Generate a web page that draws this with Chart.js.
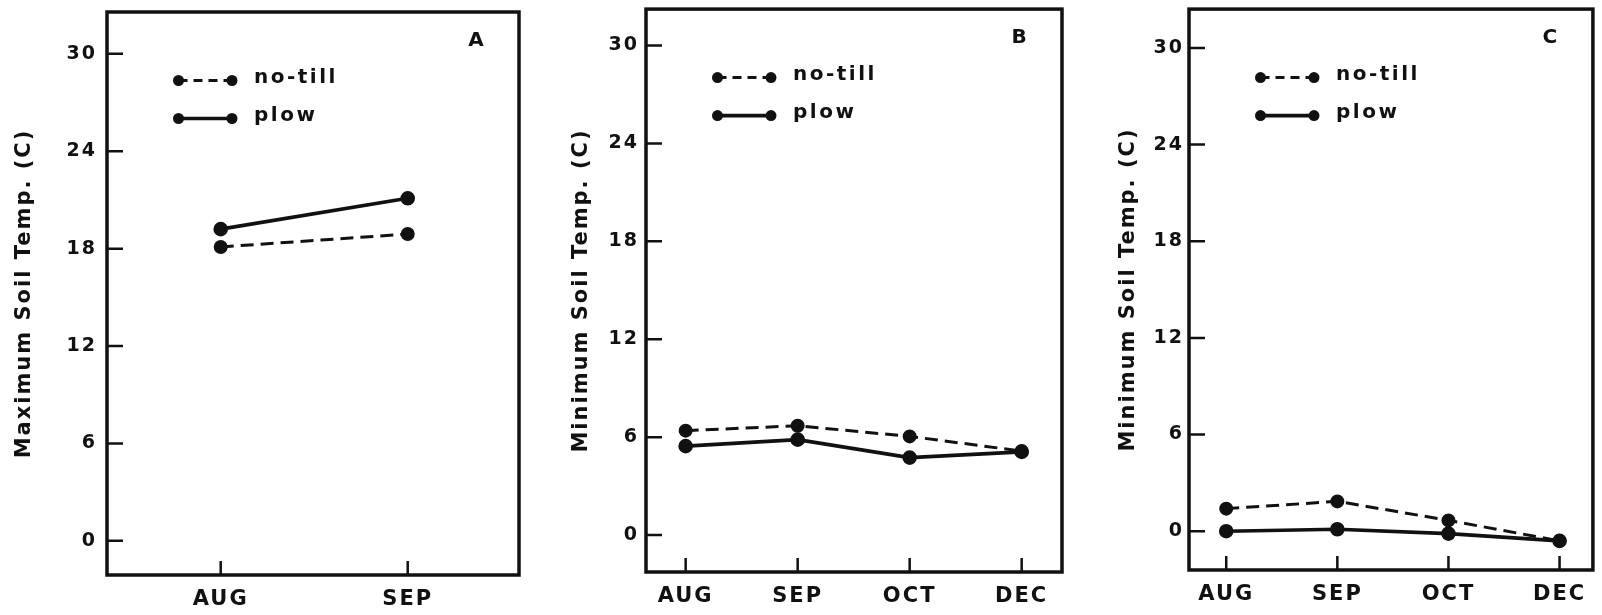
<!DOCTYPE html>
<html>
<head>
<meta charset="utf-8">
<title>Soil temperature under no-till and plow</title>
<script src="https://cdn.jsdelivr.net/npm/chart.js@4.4.1/dist/chart.umd.min.js"></script>
<style>
	html, body { margin: 0; padding: 0; background: #fff; }
	#wrap { position: relative; width: 1602px; height: 615px; overflow: hidden; background: #fff; }
	canvas { position: absolute; top: 0; }
</style>
</head>
<body>
<div id="wrap">
	<canvas id="chartA" width="540" height="615" style="left:0"></canvas>
	<canvas id="chartB" width="520" height="615" style="left:560px"></canvas>
	<canvas id="chartC" width="502" height="615" style="left:1100px"></canvas>
</div>
<script>
// data
const monthsA = ["AUG", "SEP"];
const monthsBC = ["AUG", "SEP", "OCT", "DEC"];
const tempTicks = [0, 6, 12, 18, 24, 30];
const seriesNames = ["no-till", "plow"];

// A: maximum soil temperature
const maxNoTill = [18.1, 18.9];
const maxPlow = [19.2, 21.1];
// B: minimum soil temperature
const minNoTillB = [6.4, 6.7, 6.05, 5.15];
const minPlowB = [5.45, 5.85, 4.75, 5.1];
// C: minimum soil temperature
const minNoTillC = [1.4, 1.85, 0.67, -0.6];
const minPlowC = [0.0, 0.12, -0.15, -0.6];

const INK = "#111";
const FONT = "'DejaVu Sans', 'Liberation Sans', sans-serif";

document.addEventListener("DOMContentLoaded", function () {
	Chart.defaults.font.family = FONT;
	Chart.defaults.font.weight = "bold";
	Chart.defaults.color = INK;

	// box around the plot, inward ticks, legend and panel letter
	const framePlugin = {
		id: "frame",
		beforeDraw(chart) {
			chart.ctx.letterSpacing = "2px";
		},
		afterDatasetsDraw(chart, args, opts) {
			const { ctx, chartArea: a, scales } = chart;
			ctx.save();
			ctx.strokeStyle = INK;
			ctx.fillStyle = INK;

			ctx.lineWidth = 3.5;
			ctx.strokeRect(a.left, a.top, a.right - a.left, a.bottom - a.top);

			ctx.lineWidth = 2.5;
			ctx.beginPath();
			scales.y.ticks.forEach((t) => {
				const py = scales.y.getPixelForValue(t.value);
				ctx.moveTo(a.left, py);
				ctx.lineTo(a.left + 16, py);
			});
			scales.x.ticks.forEach((t) => {
				const px = scales.x.getPixelForValue(t.value);
				ctx.moveTo(px, a.bottom);
				ctx.lineTo(px, a.bottom - 14);
			});
			ctx.stroke();

			// legend
			chart.data.datasets.forEach((ds, i) => {
				const ly = a.top + 68.5 + i * 38;
				const x1 = a.left + 71.5;
				const x2 = a.left + 125;
				ctx.lineWidth = ds.borderWidth;
				ctx.setLineDash(ds.borderDash.length ? [9, 6] : []);
				ctx.beginPath();
				ctx.moveTo(x1, ly);
				ctx.lineTo(x2, ly);
				ctx.stroke();
				ctx.setLineDash([]);
				[x1, x2].forEach((px) => {
					ctx.beginPath();
					ctx.arc(px, ly, 5.5, 0, Math.PI * 2);
					ctx.fill();
				});
				ctx.font = "bold 20px " + FONT;
				ctx.letterSpacing = "2.5px";
				ctx.textAlign = "left";
				ctx.textBaseline = "middle";
				ctx.fillText(ds.label, a.left + 147, ly - 3);
			});

			ctx.font = "bold 20px " + FONT;
			ctx.letterSpacing = "0px";
			ctx.textAlign = "center";
			ctx.textBaseline = "middle";
			ctx.fillText(opts.letter, a.right - 43, a.top + 29);
			ctx.restore();
		},
	};

	function makePanel(p) {
		const ctx = document.getElementById(p.id);
		const data = {
			datasets: [
				{
					label: seriesNames[0],
					data: p.noTill.map((v, i) => ({ x: i, y: v })),
					borderColor: INK,
					backgroundColor: INK,
					borderWidth: 3,
					borderDash: [13, 7],
					pointRadius: 5.5,
					pointHoverRadius: 5.5,
					tension: 0,
				},
				{
					label: seriesNames[1],
					data: p.plow.map((v, i) => ({ x: i, y: v })),
					borderColor: INK,
					backgroundColor: INK,
					borderWidth: 3.6,
					borderDash: [],
					pointRadius: 5.5,
					pointHoverRadius: 5.5,
					tension: 0,
				},
			],
		};

		const options = {
			responsive: false,
			animation: false,
			layout: { padding: { left: 0, top: p.top, right: p.right, bottom: 0 } },
			plugins: {
				legend: { display: false },
				tooltip: { enabled: false },
				frame: { letter: p.letter },
			},
			scales: {
				x: {
					type: "linear",
					min: p.xMin,
					max: p.xMax,
					grid: { display: false, drawTicks: false },
					border: { display: false },
					afterBuildTicks: (s) => {
						s.ticks = p.months.map((m, i) => ({ value: i }));
					},
					afterFit: (s) => {
						s.height = p.xHeight;
						s.paddingLeft = 0;
						s.paddingRight = 0;
					},
					ticks: {
						font: { size: 21, weight: "bold" },
						padding: 12,
						maxRotation: 0,
						callback: (v) => p.months[v],
					},
				},
				y: {
					type: "linear",
					min: p.yMin,
					max: p.yMax,
					grid: { display: false, drawTicks: false },
					border: { display: false },
					afterBuildTicks: (s) => {
						s.ticks = tempTicks.map((v) => ({ value: v }));
					},
					afterFit: (s) => {
						s.width = p.yWidth;
						s.paddingTop = 0;
						s.paddingBottom = 0;
					},
					ticks: {
						font: { size: 19, weight: "bold" },
						padding: p.tickPad,
					},
					title: {
						display: true,
						text: p.title,
						font: { size: 21, weight: "bold" },
						padding: { top: p.titlePad, bottom: 0 },
					},
				},
			},
		};

		return new Chart(ctx, { type: "line", data, options, plugins: [framePlugin] });
	}

	makePanel({
		id: "chartA", letter: "A", title: "Maximum Soil Temp. (C)",
		months: monthsA, noTill: maxNoTill, plow: maxPlow,
		xMin: -0.608, xMax: 1.595, yMin: -2.11, yMax: 32.58,
		top: 12, right: 21, yWidth: 107, xHeight: 40, tickPad: 10, titlePad: 12.4,
	});
	makePanel({
		id: "chartB", letter: "B", title: "Minimum Soil Temp. (C)",
		months: monthsBC, noTill: minNoTillB, plow: minPlowB,
		xMin: -0.354, xMax: 3.36, yMin: -2.26, yMax: 32.23,
		top: 7, right: 18, yWidth: 86, xHeight: 43, tickPad: 7, titlePad: 9.4,
	});
	makePanel({
		id: "chartC", letter: "C", title: "Minimum Soil Temp. (C)",
		months: monthsBC, noTill: minNoTillC, plow: minPlowC,
		xMin: -0.335, xMax: 3.30, yMin: -2.41, yMax: 32.41,
		top: 7, right: 3, yWidth: 89, xHeight: 45, tickPad: 5, titlePad: 16.4,
	});
});
</script>
</body>
</html>
